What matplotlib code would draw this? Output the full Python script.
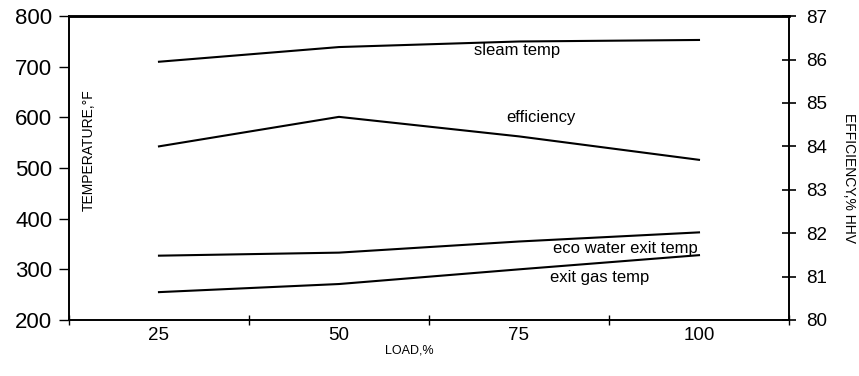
import matplotlib
matplotlib.use('Agg')
import matplotlib.pyplot as plt
from matplotlib.ticker import FixedLocator

plt.rcParams['font.family'] = ['Liberation Sans', 'DejaVu Sans']

# data
loads = ['25', '50', '75', '100']
steam_temp = [710, 739, 750, 753]
eco_water_exit = [327, 333, 355, 373]
exit_gas_temp = [255, 271, 300, 328]
efficiency = [84.0, 84.68, 84.23, 83.69]

x = list(range(len(loads)))

fig = plt.figure(figsize=(8.59, 3.76), dpi=100)
ax = fig.add_axes([0.0803, 0.149, 0.8382, 0.808])
ax2 = ax.twinx()

lw = 1.5
ax.plot(x, steam_temp, color='black', linewidth=lw)
ax.plot(x, eco_water_exit, color='black', linewidth=lw)
ax.plot(x, exit_gas_temp, color='black', linewidth=lw)
ax2.plot(x, efficiency, color='black', linewidth=lw)

ax.set_xlim(-0.5, len(loads) - 0.5)
ax.set_ylim(200, 800)
ax2.set_ylim(80, 87)

ax.set_yticks(range(200, 801, 100))
ax.tick_params(axis='y', direction='out', length=7, width=1, pad=5, labelsize=16)
ax2.set_yticks(range(80, 88))
ax2.tick_params(axis='y', direction='inout', length=10, width=1.2, pad=7, labelsize=13.5)

ax.set_xticks(x)
ax.set_xticklabels(loads)
ax.xaxis.set_minor_locator(FixedLocator([-0.5, 0.5, 1.5, 2.5, 3.5]))
ax.tick_params(axis='x', which='major', length=0, pad=5, labelsize=13.5)
ax.tick_params(axis='x', which='minor', direction='inout', length=7, width=1)

for a in (ax, ax2):
    for side in ('left', 'right', 'bottom'):
        a.spines[side].set_linewidth(1.2)
    a.spines['top'].set_linewidth(1.8)

# axis titles
ax.text(0.027, 0.56, 'TEMPERATURE,°F', transform=ax.transAxes, rotation=90,
        ha='center', va='center', fontsize=10)
fig.text(0.988, 0.527, 'EFFICIENCY,% HHV', rotation=-90,
         ha='center', va='center', fontsize=10)
fig.text(0.477, 0.068, 'LOAD,%', ha='center', va='center', fontsize=9)

# series labels
ax.text(1.99, 733, 'sleam temp', ha='center', va='center', fontsize=12)
ax.text(2.12, 599, 'efficiency', ha='center', va='center', fontsize=12)
ax.text(2.59, 342, 'eco water exit temp', ha='center', va='center', fontsize=12)
ax.text(2.45, 283, 'exit gas temp', ha='center', va='center', fontsize=12)

fig.savefig('out.png', dpi=100)
plt.close(fig)
